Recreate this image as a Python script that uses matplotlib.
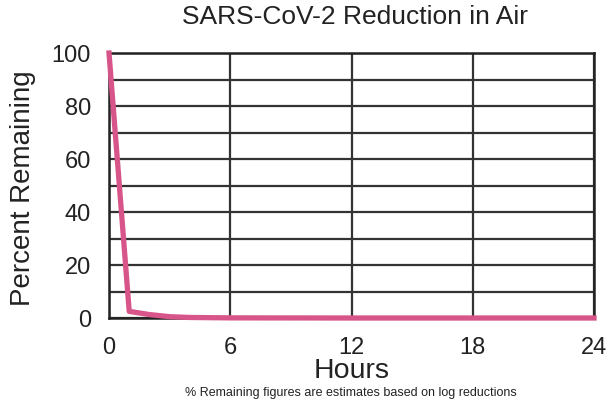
import matplotlib
matplotlib.use("Agg")
import matplotlib.pyplot as plt

hours = [0, 1, 2, 3, 4, 6, 12, 18, 24]
percent_remaining = [100, 2.5, 1.3, 0.5, 0.2, 0.05, 0, 0, 0]
x_ticks = [0, 6, 12, 18, 24]
y_ticks = [0, 20, 40, 60, 80, 100]
title = "SARS-CoV-2 Reduction in Air"
xlabel = "Hours"
ylabel = "Percent Remaining"
footnote = "% Remaining figures are estimates based on log reductions"

plt.rcParams['font.family'] = ['Liberation Sans', 'DejaVu Sans']

fig = plt.figure(figsize=(6.06, 4.02), dpi=100)
ax = fig.add_axes([109/606, 83/402, 485/606, 265/402])

for y in range(0, 101, 10):
    ax.axhline(y, color='#333333', lw=1.6, zorder=1)
for x in x_ticks:
    ax.axvline(x, color='#333333', lw=1.6, zorder=1)

ax.plot(hours, percent_remaining, color='#d8558a', lw=3.8, zorder=3, clip_on=False)

ax.set_xlim(0, 24)
ax.set_ylim(0, 100)
ax.set_xticks(x_ticks)
ax.set_yticks(y_ticks)
ax.tick_params(length=0, labelsize=17, colors='#222222')
ax.tick_params(axis='y', pad=13)
ax.tick_params(axis='x', pad=13)
for s in ax.spines.values():
    s.set_color('#222222')
    s.set_linewidth(1.8)

fig.text(355/606, 1 - 17/402, title, fontsize=19, ha='center', va='center', color='#222222')
fig.text(352/606, 1 - 371/402, xlabel, fontsize=20.5, ha='center', va='center', color='#222222')
fig.text(23/606, 1 - 188/402, ylabel, fontsize=20, ha='center', va='center',
         rotation=90, color='#222222')
fig.text(351/606, 1 - 393/402, footnote, fontsize=9, ha='center', va='center', color='#222222')

fig.savefig("out.png", dpi=100)
